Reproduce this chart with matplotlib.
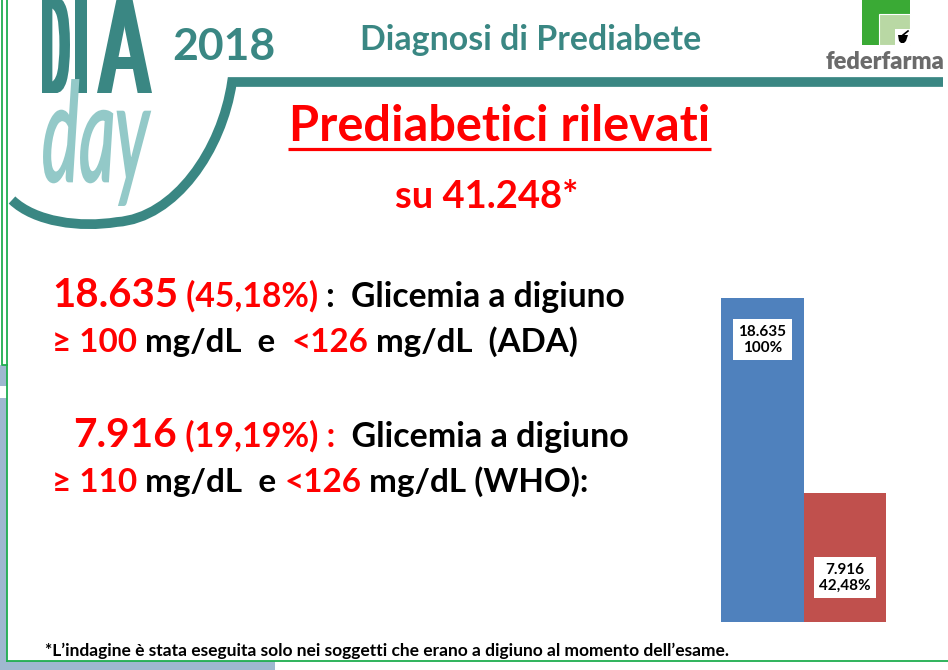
import matplotlib
matplotlib.use('Agg')
import matplotlib.pyplot as plt
from matplotlib.textpath import TextPath
from matplotlib.font_manager import FontProperties
from matplotlib.patches import PathPatch, Rectangle, Polygon
from matplotlib.path import Path
import numpy as np

# ---------------- data ----------------
categories = ['ADA (≥100 e <126 mg/dL)', 'WHO (≥110 e <126 mg/dL)']
values = [18635, 7916]
bar_labels = ['18.635\n100%', '7.916\n42,48%']
bar_colors = ['#4f81bd', '#c0504d']

title = 'Prediabetici rilevati'
subtitle = 'su 41.248*'
header = 'Diagnosi di Prediabete'
year = '2018'
footnote = '*L\u2019indagine è stata eseguita solo nei soggetti che erano a digiuno al momento dell\u2019esame.'

W, H = 948, 670
fig = plt.figure(figsize=(W / 100, H / 100), dpi=100)
fig.patch.set_facecolor('white')
bg = fig.add_axes([0, 0, 1, 1])
bg.set_xlim(0, W)
bg.set_ylim(H, 0)
bg.axis('off')
renderer = fig.canvas.get_renderer()

FAM = ['Lato', 'DejaVu Sans']
TEAL = '#3a8783'
LTEAL = '#93c9c8'
RED = '#ff0000'
BLACK = '#000000'
GREEN = '#1fae4f'


def advance(s, size, weight='bold'):
    t1 = bg.text(0, 0, s + '|', fontsize=size, fontweight=weight, family=FAM)
    t2 = bg.text(0, 0, '|', fontsize=size, fontweight=weight, family=FAM)
    w = t1.get_window_extent(renderer).width - t2.get_window_extent(renderer).width
    t1.remove()
    t2.remove()
    return w


def rich(x0, x1, y, parts, weight='bold'):
    total = sum(advance(s, sz, weight) for s, c, sz in parts)
    k = (x1 - x0) / total
    x = x0
    for s, c, sz in parts:
        bg.text(x, y, s, color=c, fontsize=sz * k, fontweight=weight,
                family=FAM, va='baseline', ha='left')
        x += advance(s, sz * k, weight)


def fit(x0, x1, y, s, size, color, weight='bold'):
    t = bg.text(x0, y, s, fontsize=size, color=color, fontweight=weight,
                family=FAM, va='baseline', ha='left')
    w = t.get_window_extent(renderer).width
    t.set_fontsize(size * (x1 - x0) / w)
    return t


def path_box(s, fp, x0, x1, y0, y1, color, lw=0, smear=0):
    tp = TextPath((0, 0), s, size=100, prop=fp)
    v = tp.vertices.copy()
    bb = tp.get_extents()
    v[:, 0] = x0 + (v[:, 0] - bb.x0) / bb.width * (x1 - smear - x0)
    v[:, 1] = y1 - (v[:, 1] - bb.y0) / bb.height * (y1 - y0)
    shifts = np.arange(0, smear + 0.01, 1.0) if smear else [0]
    for dx in shifts:
        vv = v.copy()
        vv[:, 0] += dx
        bg.add_patch(PathPatch(Path(vv, tp.codes), fc=color,
                               ec=color if lw else 'none', lw=lw))


# ---------------- frame ----------------
bg.add_patch(Rectangle((0, 365), 7, 305, fc='#9fb8d0', ec='none'))
bg.add_patch(Rectangle((0, 386), 7, 12, fc='white', ec='none'))
bg.add_patch(Rectangle((0, 661), 275, 9, fc='#9fb8d0', ec='none'))
bg.plot([7.5, 7.5], [0, 661], color=GREEN, lw=1.3)
bg.plot([7.5, 948], [661, 661], color=GREEN, lw=1.3)
bg.plot([2, 2, 7.5], [0, 365, 365], color=GREEN, lw=1.3)

# ---------------- DIA day logo ----------------
fpD = FontProperties(family='DejaVu Sans', weight='normal')
path_box('D', fpD, 42, 70, -3, 93, TEAL, smear=7)
path_box('I', fpD, 75, 87, -3, 93, TEAL, smear=7)
path_box('A', fpD, 97, 152, -3, 93, TEAL, smear=7)
fpd = FontProperties(family='Lato', style='italic', weight='normal')
path_box('day', fpd, 44, 150, 80, 205, LTEAL, lw=1.4)

# header teal swoosh
verts = [(943, 82), (232, 82), (222, 150), (175, 218), (117, 222),
         (80, 228), (35, 222), (12, 200)]
codes = [Path.MOVETO, Path.LINETO, Path.CURVE4, Path.CURVE4, Path.CURVE4,
         Path.CURVE4, Path.CURVE4, Path.CURVE4]
bg.add_patch(PathPatch(Path(verts, codes), fc='none', ec=TEAL, lw=7, capstyle='butt'))

fit(172, 275, 60, year, 30, TEAL)
fit(360, 700, 50, header, 22, TEAL)

# ---------------- federfarma logo ----------------
bg.add_patch(Rectangle((862, -2), 48, 47, fc='#3aaa35', ec='none'))
bg.add_patch(Rectangle((879, 14), 31, 31, fc='#b9d8a4', ec='white', lw=0.8))
bg.add_patch(Rectangle((895, 29), 15, 16, fc='white', ec='none'))
bg.add_patch(Polygon([(898, 35), (908, 35), (906, 41), (904, 43), (901, 43), (899, 41)],
                     closed=True, fc='black', ec='none'))
bg.plot([903, 908], [35, 31], color='black', lw=1.2)
fit(826, 945, 69, 'federfarma', 16, '#6b6b6b', weight='heavy')

# ---------------- titles ----------------
fit(289, 709, 141, title, 36, RED)
bg.plot([288, 711], [149, 149], color=RED, lw=2.3, solid_capstyle='butt')
fit(395, 578, 208, subtitle, 24, RED)

# ---------------- body text ----------------
rich(52, 626, 307, [('18.635', RED, 31), (' (45,18%)', RED, 26),
                    (' :  Glicemia a digiuno', BLACK, 26)])
rich(52, 580, 352, [('≥ 100', RED, 26), (' mg/dL  e  ', BLACK, 26),
                    ('<126', RED, 26), (' mg/dL  (ADA)', BLACK, 26)])
rich(73, 629, 447, [('7.916', RED, 31), (' (19,19%) :', RED, 26),
                    ('  Glicemia a digiuno', BLACK, 26)])
rich(52, 590, 492, [('≥ 110', RED, 26), (' mg/dL  e ', BLACK, 26),
                    ('<126', RED, 26), (' mg/dL (WHO):', BLACK, 26)])

fit(45, 721, 656, footnote, 12, BLACK)

# ---------------- bar chart ----------------
ax = fig.add_axes([721 / W, 1 - 622 / H, 165 / W, 324 / H])
x = np.arange(len(values))
ax.bar(x, values, width=1.0, color=bar_colors, edgecolor='none')
ax.set_xlim(-0.5, 1.5)
ax.set_ylim(826, values[0])
ax.axis('off')
label_offsets = [-30, -61]
for i, (v, lab) in enumerate(zip(values, bar_labels)):
    ax.annotate(lab, (i, v), xytext=(0, label_offsets[i]), textcoords='offset points',
                ha='center', va='center', fontsize=11, fontweight='bold',
                family=FAM, linespacing=1.2,
                bbox=dict(boxstyle='square,pad=0.35', fc='white', ec='none'))

fig.savefig('out.png', dpi=100)
